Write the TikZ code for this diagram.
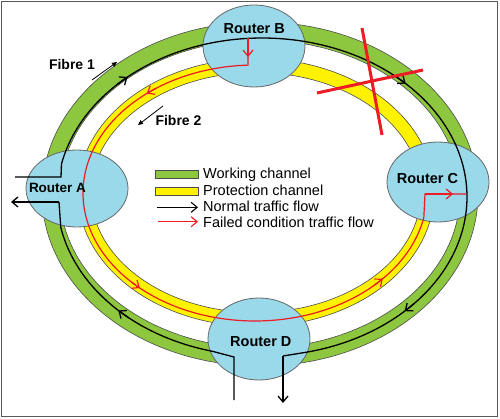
\documentclass[tikz,border=0pt]{standalone}
\usepackage{fontspec}
\setmainfont{Liberation Sans}
\usetikzlibrary{shapes.geometric,arrows.meta}
\definecolor{wgreen}{RGB}{141,198,63}
\definecolor{pyellow}{RGB}{255,242,0}
\definecolor{rblue}{RGB}{153,217,234}
\definecolor{fred}{RGB}{237,28,36}
\begin{document}
\begin{tikzpicture}[x=1pt,y=-1pt,
  router/.style={ellipse, draw=black!60, line width=0.8pt, fill=rblue, inner sep=0pt},
  rlabel/.style={font=\bfseries\fontsize{14.5}{16}\selectfont, anchor=base, inner sep=0pt},
  flabel/.style={font=\bfseries\fontsize{14}{16}\selectfont, anchor=base, inner sep=0pt},
  lgtext/.style={font=\fontsize{14.5}{16}\selectfont, anchor=base west, inner sep=0pt},
  band/.style={draw=black!70, line width=0.6pt, even odd rule},
  normalflow/.style={draw=black, line width=1.3pt},
  failflow/.style={draw=fred, line width=1.2pt},
  barb/.style={-{Straight Barb[length=6pt,width=10pt]}},
  fibarrow/.style={-{Triangle[length=5pt,width=4.5pt]}, line width=0.8pt},
  cross/.style={draw=fred, line width=3pt},
]
\useasboundingbox (0,0) rectangle (500,419);
\fill[white] (0,0) rectangle (500,419);
\draw[black!65, line width=1.5pt] (1.5,1.5) rectangle (497.5,416.5);

% bands
\path[band, fill=wgreen] (260,194) ellipse [x radius=218pt, y radius=172pt]
                         (260,194) ellipse [x radius=200pt, y radius=154pt];
\path[band, fill=pyellow] (256,192.5) ellipse [x radius=178pt, y radius=134pt]
                          (256,192.5) ellipse [x radius=165pt, y radius=120pt];

% routers
\node[router, minimum width=102pt, minimum height=77pt] (A) at (77,188.5) {};
\node[router, minimum width=102pt, minimum height=82pt] (B) at (254,46) {};
\node[router, minimum width=102pt, minimum height=80pt] (C) at (438,182) {};
\node[router, minimum width=102pt, minimum height=82pt] (D) at (259,339) {};

% end points
\coordinate (Ain) at (15,177);
\coordinate (Aup) at (61,177);
\coordinate (Aout) at (11,202);
\coordinate (Alow) at (59,202);
\coordinate (Din) at (234,400);
\coordinate (Dlow) at (234,357);
\coordinate (Dturn) at (283,356);
\coordinate (Dout) at (283,403);
\coordinate (Bdrop) at (248,38.4);
\coordinate (Bmid) at (248,57);
\coordinate (Cturn) at (425,194);
\coordinate (Cmid) at (453,194);
\coordinate (Cend) at (466,194);

% normal traffic flow
\draw[normalflow] (Ain) -- (Aup) -- plot[domain=192:437.5, samples=160, variable=\t] ({262+205*cos(\t)},{197+159*sin(\t)}) -- (Dturn);
\draw[normalflow, barb] (Dturn) -- (Dout);
\draw[normalflow] (Din) -- (Dlow) -- plot[domain=104.1:169, samples=60, variable=\t] ({262+205*cos(\t)},{197+159*sin(\t)}) -- (Alow);
\draw[normalflow, barb] (Alow) -- (Aout);
\draw[normalflow, barb] plot[domain=225:229, samples=3, variable=\t] ({262+205*cos(\t)},{197+159*sin(\t)});
\draw[normalflow, barb] plot[domain=310.5:314.5, samples=3, variable=\t] ({262+205*cos(\t)},{197+159*sin(\t)});
\draw[normalflow, barb] plot[domain=401.9:405.9, samples=3, variable=\t] ({262+205*cos(\t)},{197+159*sin(\t)});
\draw[normalflow, barb] plot[domain=130.5:134.5, samples=3, variable=\t] ({262+205*cos(\t)},{197+159*sin(\t)});

% failed condition traffic flow
\draw[failflow] (Bdrop) -- plot[domain=267.7:11, samples=160, variable=\t] ({255+172*cos(\t)},{193+128*sin(\t)}) -- (Cturn) -- (Cend);
\draw[failflow, barb] (Bdrop) -- (Bmid);
\draw[failflow, barb] (Cturn) -- (Cmid);
\draw[failflow, barb] plot[domain=235:231, samples=3, variable=\t] ({255+172*cos(\t)},{193+128*sin(\t)});
\draw[failflow, barb] plot[domain=136:132, samples=3, variable=\t] ({255+172*cos(\t)},{193+128*sin(\t)});
\draw[failflow, barb] plot[domain=46:42, samples=3, variable=\t] ({255+172*cos(\t)},{193+128*sin(\t)});

% failure cross
\draw[cross] (362,28) -- (382,135);
\draw[cross] (317,93) -- (423,70);

% router labels
\node[rlabel, font=\bfseries\fontsize{13.5}{16}\selectfont] (Atext) at (57.5,192.7) {Router A};
\node[rlabel] (Btext) at (254.2,34) {Router B};
\node[rlabel] (Ctext) at (427.5,183.3) {Router C};
\node[rlabel] (Dtext) at (260.8,346) {Router D};

% fibre labels
\node[flabel] (f1) at (72,70) {Fibre 1};
\coordinate (f1s) at (92,80);
\coordinate (f1e) at (117,62);
\draw[fibarrow] (f1s) -- (f1e);
\node[flabel] (f2) at (178.5,125.7) {Fibre 2};
\coordinate (f2s) at (163,106);
\coordinate (f2e) at (138,125);
\draw[fibarrow] (f2s) -- (f2e);

% legend
\path[fill=wgreen, draw=black!70, line width=0.6pt] (155,170) rectangle (198,178.3);
\path[fill=pyellow, draw=black!70, line width=0.6pt] (155,187.7) rectangle (198,195);
\coordinate (l3s) at (157,207.3);
\coordinate (l3e) at (198,207.3);
\coordinate (l4s) at (158,221.7);
\coordinate (l4e) at (198,221.7);
\draw[normalflow, barb, line width=1.1pt] (l3s) -- (l3e);
\draw[failflow, barb, line width=1.1pt] (l4s) -- (l4e);
\node[lgtext] (t1) at (203,178.3) {Working channel};
\node[lgtext] (t2) at (203,195.7) {Protection channel};
\node[lgtext] (t3) at (203,211.7) {Normal traffic flow};
\node[lgtext] (t4) at (203,227.3) {Failed condition traffic flow};
\end{tikzpicture}
\end{document}
